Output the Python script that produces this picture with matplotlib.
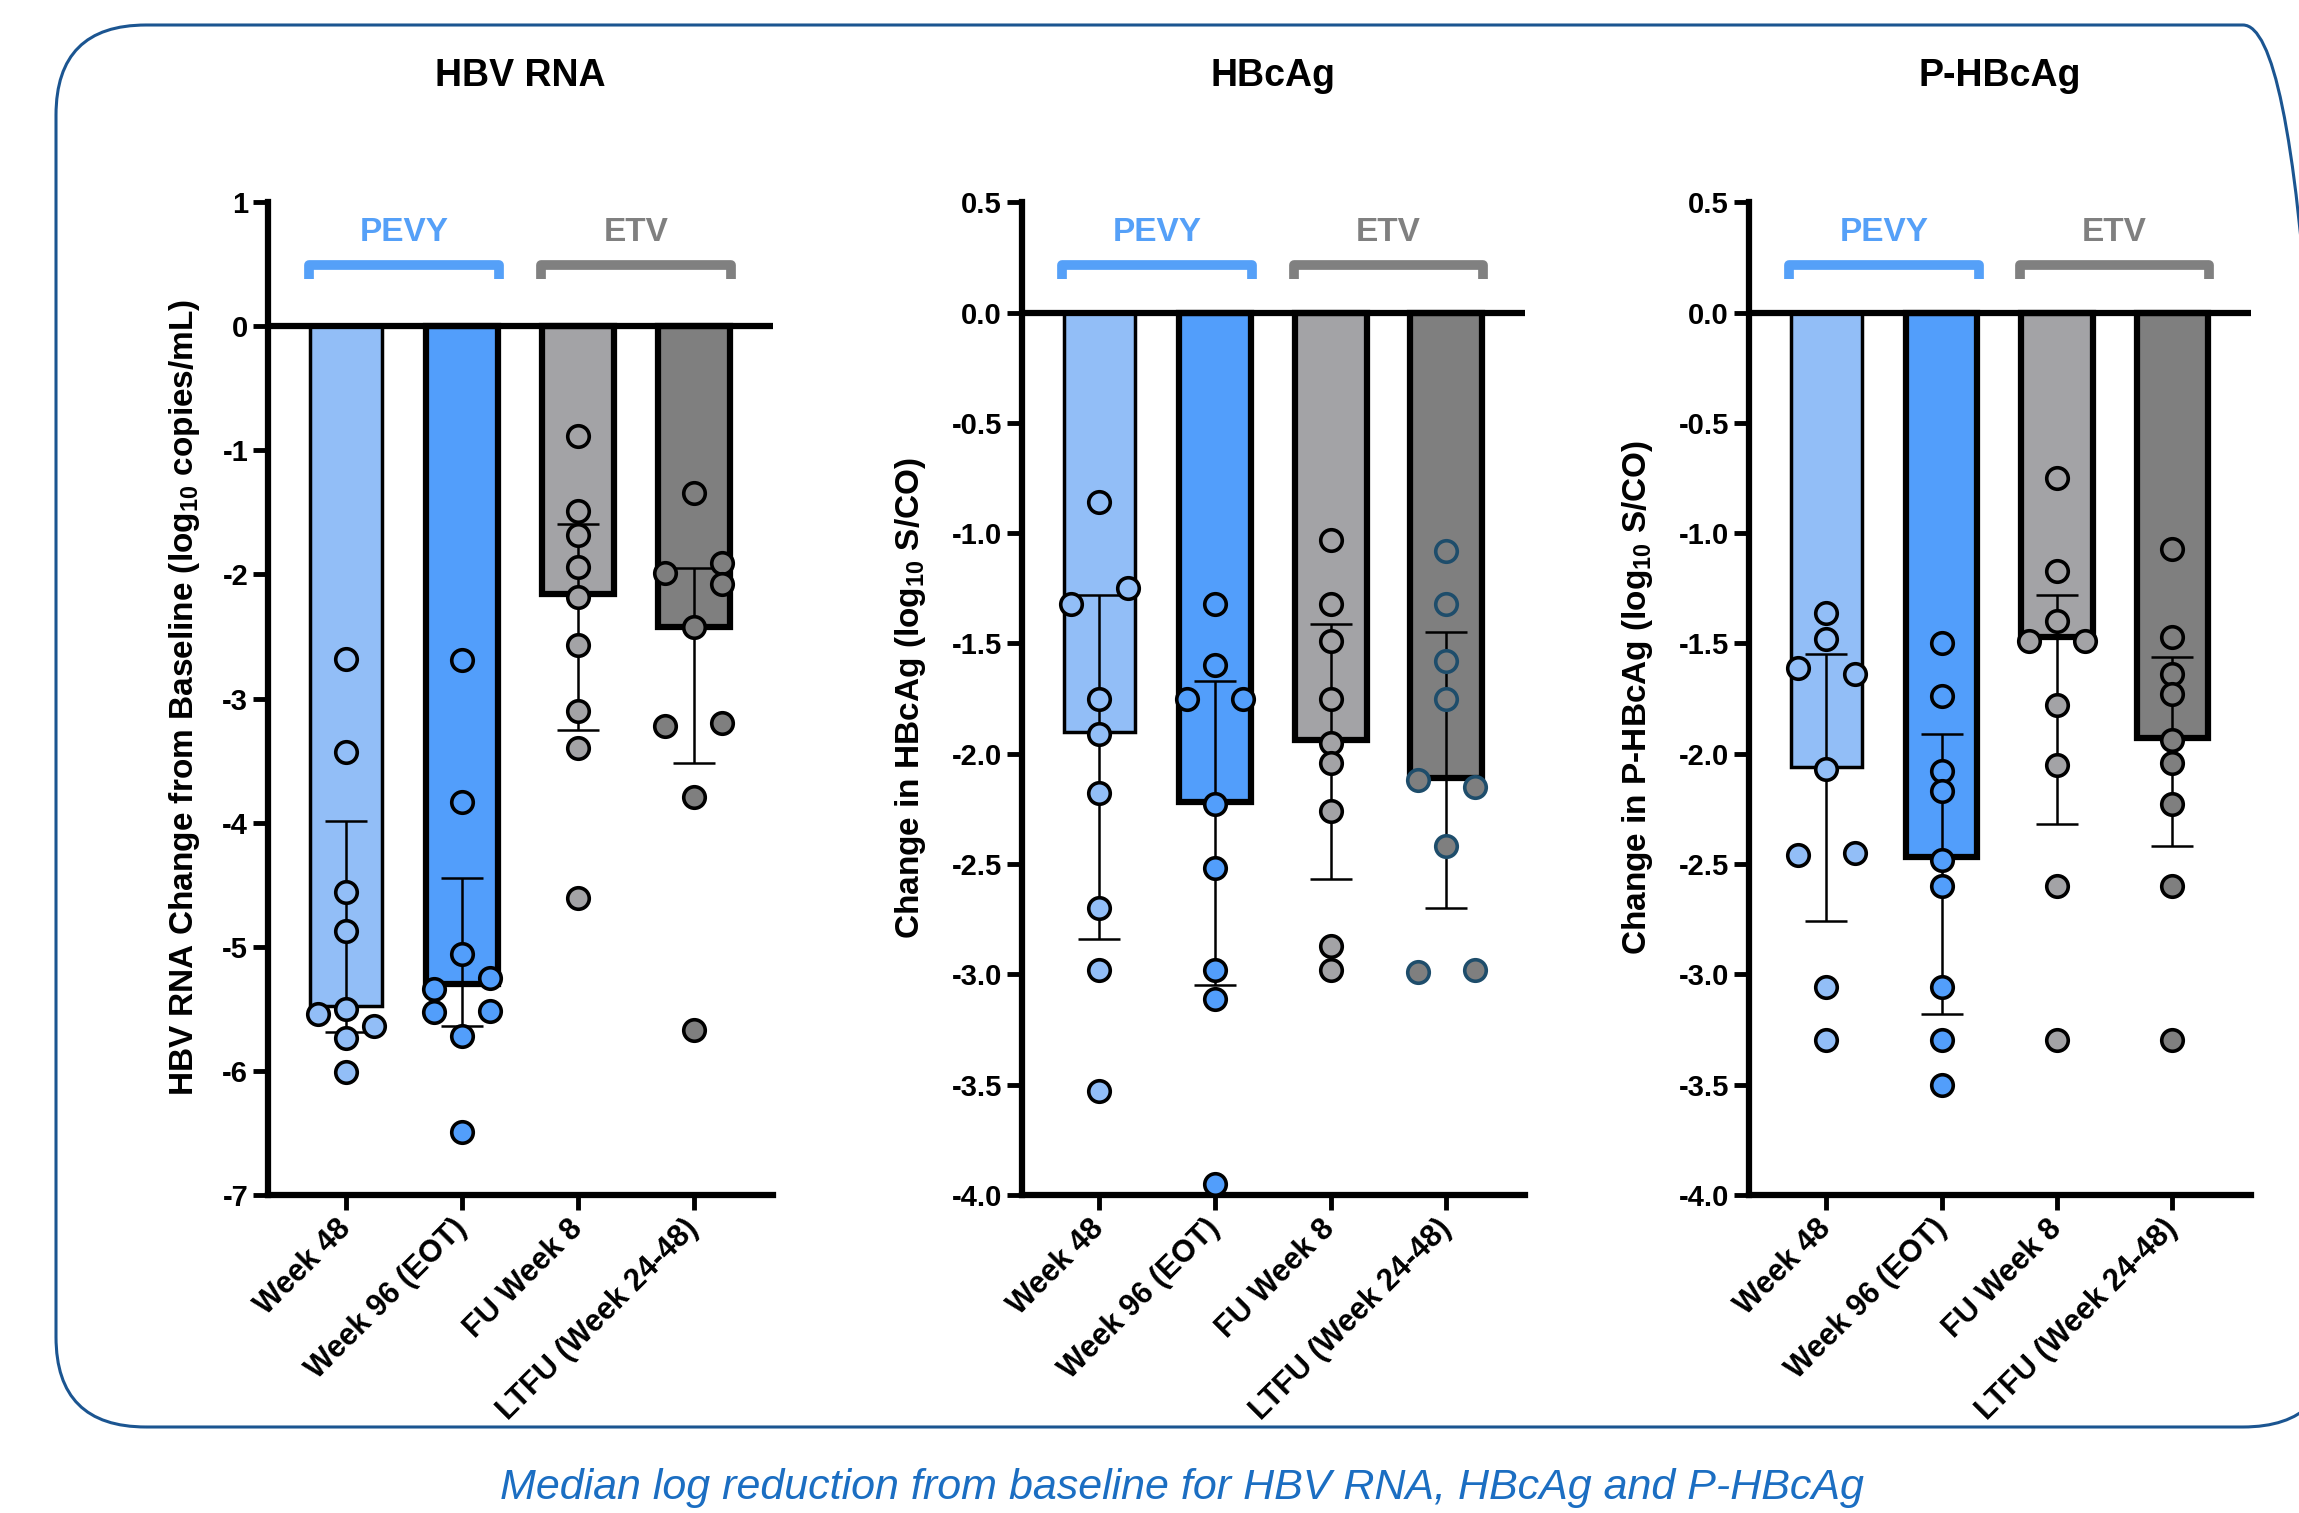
import matplotlib.pyplot as plt
import matplotlib.transforms as mtransforms
from matplotlib.lines import Line2D
from matplotlib.patches import FancyBboxPatch

plt.rcParams['font.family'] = ['Liberation Sans', 'DejaVu Sans']
plt.rcParams['font.weight'] = 'bold'
plt.rcParams['mathtext.fontset'] = 'custom'
plt.rcParams['mathtext.rm'] = 'Liberation Sans:bold'
plt.rcParams['mathtext.bf'] = 'Liberation Sans:bold'

# Data
timepoints = ["Week 48", "Week 96 (EOT)", "FU Week 8", "LTFU (Week 24-48)"]
panel_titles = ["HBV RNA", "HBcAg", "P-HBcAg"]
ylabels = [
    r"HBV RNA Change from Baseline (log$_{10}$ copies/mL)",
    r"Change in HBcAg (log$_{10}$ S/CO)",
    r"Change in P-HBcAg (log$_{10}$ S/CO)",
]

# medians (bar height) and error bar ends
rna_median = [-5.48, -5.30, -2.16, -2.42]
rna_err_top = [-3.99, -4.45, -1.59, -1.95]
rna_err_bottom = [-5.69, -5.64, -3.25, -3.52]

hbcag_median = [-1.90, -2.22, -1.94, -2.11]
hbcag_err_top = [-1.28, -1.67, -1.41, -1.45]
hbcag_err_bottom = [-2.84, -3.05, -2.57, -2.70]

phbcag_median = [-2.06, -2.47, -1.47, -1.93]
phbcag_err_top = [-1.55, -1.91, -1.28, -1.56]
phbcag_err_bottom = [-2.76, -3.18, -2.32, -2.42]

# individual patients, one list per timepoint
rna_points = [
    [-2.68, -3.43, -4.56, -4.87, -5.50, -5.54, -5.64, -5.74, -6.01],
    [-2.69, -3.83, -5.06, -5.25, -5.34, -5.52, -5.53, -5.72, -6.49],
    [-0.88, -1.49, -1.68, -1.94, -2.18, -2.57, -3.10, -3.40, -4.61],
    [-1.34, -1.99, -1.91, -2.08, -2.42, -3.22, -3.20, -3.79, -5.67],
]
# which side of the bar centre a point sits on (-1 left, 0 centre, 1 right)
rna_sides = [
    [0, 0, 0, 0, 0, -1, 1, 0, 0],
    [0, 0, 0, 1, -1, 1, -1, 0, 0],
    [0, 0, 0, 0, 0, 0, 0, 0, 0],
    [0, -1, 1, 1, 0, -1, 1, 0, 0],
]

hbcag_points = [
    [-0.86, -1.32, -1.25, -1.75, -1.91, -2.18, -2.70, -2.98, -3.53],
    [-1.32, -1.60, -1.75, -1.75, -2.23, -2.52, -2.98, -3.11, -3.95],
    [-1.03, -1.32, -1.49, -1.75, -1.95, -2.04, -2.26, -2.87, -2.98],
    [-1.08, -1.32, -1.58, -1.75, -2.12, -2.15, -2.42, -2.99, -2.98],
]
hbcag_sides = [
    [0, -1, 1, 0, 0, 0, 0, 0, 0],
    [0, 0, -1, 1, 0, 0, 0, 0, 0],
    [0, 0, 0, 0, 0, 0, 0, 0, 0],
    [0, 0, 0, 0, -1, 1, 0, -1, 1],
]

phbcag_points = [
    [-1.36, -1.48, -1.61, -1.64, -2.07, -2.46, -2.45, -3.06, -3.30],
    [-1.50, -1.74, -2.08, -2.17, -2.48, -2.60, -3.06, -3.30, -3.50],
    [-0.75, -1.17, -1.40, -1.49, -1.49, -1.78, -2.05, -2.60, -3.30],
    [-1.07, -1.47, -1.64, -1.73, -1.94, -2.04, -2.23, -2.60, -3.30],
]
phbcag_sides = [
    [0, 0, -1, 1, 0, -1, 1, 0, 0],
    [0, 0, 0, 0, 0, 0, 0, 0, 0],
    [0, 0, 0, -1, 1, 0, 0, 0, 0],
    [0, 0, 0, 0, 0, 0, 0, 0, 0],
]

# Styles
bar_colors = ["#92bef7", "#529efb", "#a3a3a6", "#7f7f7f"]
bar_edge_widths = [2.5, 4.5, 4.5, 4.5]
pevy_color = "#55a0f8"
etv_color = "#808080"
frame_color = "#1b5591"
caption_color = "#1b6ec2"
jitter = 0.245
bar_width = 0.62


def draw_bracket(ax, x0, x1, color, label):
    trans = mtransforms.blended_transform_factory(ax.transData, ax.transAxes)
    y = 0.937
    leg = 0.014
    line = Line2D([x0, x0, x1, x1], [y - leg, y, y, y - leg], transform=trans,
                  color=color, lw=7, solid_joinstyle='round', solid_capstyle='butt',
                  clip_on=False)
    ax.add_line(line)
    ax.text((x0 + x1) / 2, y + 0.033, label, transform=trans, color=color,
            fontsize=24, ha='center', va='center')


def draw_panel(ax, median, err_top, err_bottom, points, sides, ylim, yticks,
               ticklabels, point_edge=None):
    x = list(range(len(timepoints)))
    ax.bar(x, median, width=bar_width, color=bar_colors, edgecolor='black',
           linewidth=bar_edge_widths, zorder=2)

    # error bars from lower to upper bound
    for i in x:
        ax.errorbar(i, median[i], yerr=[[median[i] - err_bottom[i]], [err_top[i] - median[i]]],
                    fmt='none', ecolor='black', elinewidth=1.8, capsize=15, capthick=1.8,
                    zorder=3)

    # patient points
    for i in x:
        xs = [i + s * jitter for s in sides[i]]
        ec = 'black'
        if point_edge is not None and point_edge[i] is not None:
            ec = point_edge[i]
        ax.plot(xs, points[i], 'o', markersize=15.5, markerfacecolor=bar_colors[i],
                markeredgecolor=ec, markeredgewidth=2.6, zorder=4, clip_on=False)

    ax.axhline(0, color='black', lw=4.5, zorder=5)

    ax.set_xlim(-0.67, 3.68)
    ax.set_ylim(ylim)
    ax.set_yticks(yticks)
    ax.set_yticklabels(ticklabels)
    ax.set_xticks(x)
    ax.set_xticklabels(timepoints, rotation=45, ha='right', va='center',
                       rotation_mode='anchor', fontsize=22)

    ax.spines['top'].set_visible(False)
    ax.spines['right'].set_visible(False)
    ax.spines['left'].set_linewidth(4.5)
    ax.spines['bottom'].set_linewidth(4.5)
    ax.tick_params(axis='both', width=3.5, length=11, labelsize=21, color='black')
    ax.tick_params(axis='x', labelsize=22, pad=10)
    ax.set_facecolor('none')

    draw_bracket(ax, -0.32, 1.32, pevy_color, "PEVY")
    draw_bracket(ax, 1.68, 3.32, etv_color, "ETV")


fig = plt.figure(figsize=(22.99, 15.13), dpi=100)

# rounded frame around the panels, running off the right edge
frame = FancyBboxPatch((0.56, 0.86), 22.77, 14.02,
                       boxstyle="round,pad=0,rounding_size=0.9",
                       transform=fig.dpi_scale_trans, facecolor='none',
                       edgecolor=frame_color, lw=2.2, zorder=0)
fig.patches.append(frame)

bottom = 0.2103
height = 0.656
ax1 = fig.add_axes([0.1167, bottom, 0.2194, height])
ax2 = fig.add_axes([0.4445, bottom, 0.2188, height])
ax3 = fig.add_axes([0.7608, bottom, 0.2182, height])

draw_panel(ax1, rna_median, rna_err_top, rna_err_bottom, rna_points, rna_sides,
           (-7, 1), list(range(1, -8, -1)), [str(v) for v in range(1, -8, -1)])

half_ticks = [0.5 - 0.5 * k for k in range(10)]
half_labels = ["%.1f" % v for v in half_ticks]
draw_panel(ax2, hbcag_median, hbcag_err_top, hbcag_err_bottom, hbcag_points, hbcag_sides,
           (-4, 0.5), half_ticks, half_labels,
           point_edge=[None, None, None, "#1e4d6b"])
draw_panel(ax3, phbcag_median, phbcag_err_top, phbcag_err_bottom, phbcag_points, phbcag_sides,
           (-4, 0.5), half_ticks, half_labels)

# titles and y labels
title_x = [0.2264, 0.5539, 0.8699]
ylabel_x = [0.0804, 0.3960, 0.7124]
for i in range(3):
    fig.text(title_x[i], 0.9496, panel_titles[i], fontsize=27, ha='center', va='center')
    fig.text(ylabel_x[i], 0.5388, ylabels[i], fontsize=24, rotation=90,
             ha='center', va='center')

fig.text(0.514, 0.0165, "Median log reduction from baseline for HBV RNA, HBcAg and P-HBcAg",
         fontsize=31, fontweight='normal', style='italic', color=caption_color,
         ha='center', va='center')

fig.savefig("out.png", dpi=100)
